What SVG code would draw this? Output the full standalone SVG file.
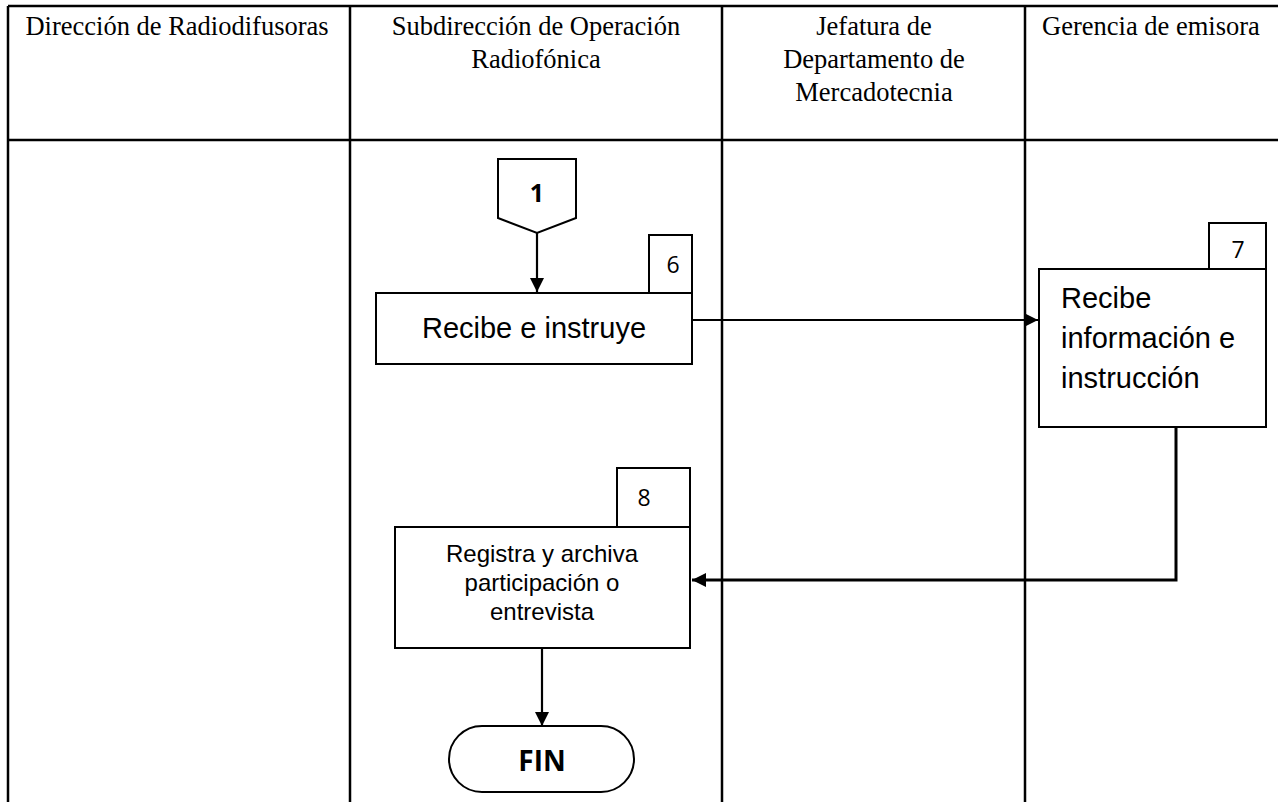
<svg xmlns="http://www.w3.org/2000/svg" width="1278" height="802" viewBox="0 0 1278 802">
<style>
.hdr{font-family:"Liberation Serif",serif;font-size:26.5px;fill:#000;text-anchor:middle}
.grid{stroke:#000;stroke-width:2.5;fill:none}
.box{fill:#fff;stroke:#000;stroke-width:2}
.lbl{font-family:"Liberation Sans",Arial,sans-serif;fill:#000}
.num{font-family:"Open Sans","Liberation Sans",sans-serif;font-size:23px;fill:#000;text-anchor:middle}
.bold{font-family:"Open Sans","Liberation Sans",sans-serif;font-weight:bold;fill:#000;text-anchor:middle}
.conn{stroke:#000;stroke-width:2.2;fill:none}
</style>
<defs>
<marker id="arrL" markerWidth="14" markerHeight="14" refX="14" refY="7" orient="auto" markerUnits="userSpaceOnUse" viewBox="0 0 14 14">
<path d="M0,0 L14,7 L0,14 z" fill="#000"/>
</marker>
</defs>
<rect width="1278" height="802" fill="#fff"/>
<g id="table">
<line class="grid" x1="8" y1="6" x2="1278" y2="6"/>
<line class="grid" x1="8" y1="140" x2="1278" y2="140"/>
<line class="grid" x1="8" y1="6" x2="8" y2="802"/>
<line class="grid" x1="350" y1="6" x2="350" y2="802"/>
<line class="grid" x1="722" y1="6" x2="722" y2="802"/>
<line class="grid" x1="1025" y1="6" x2="1025" y2="802"/>
<text class="hdr" x="177" y="35">Dirección de Radiodifusoras</text>
<text class="hdr" x="536" y="35">Subdirección de Operación</text>
<text class="hdr" x="536" y="68">Radiofónica</text>
<text class="hdr" x="874" y="35">Jefatura de</text>
<text class="hdr" x="874" y="68">Departamento de</text>
<text class="hdr" x="874" y="101">Mercadotecnia</text>
<text class="hdr" x="1151" y="35">Gerencia de emisora</text>
</g>
<g id="connectors">
<line class="conn" x1="537" y1="233" x2="537" y2="292" marker-end="url(#arrL)"/>
<line class="conn" x1="692" y1="320" x2="1038" y2="320" marker-end="url(#arrL)"/>
<polyline class="conn" style="stroke-width:3" points="1176,428 1176,580 692,580" marker-end="url(#arrL)"/>
<line class="conn" x1="542" y1="649" x2="542" y2="726" marker-end="url(#arrL)"/>
</g>
<g id="n1">
<path class="box" d="M498,159 H576 V218 L537,233 L498,218 Z"/>
<text class="bold" x="537" y="202" font-size="25">1</text>
</g>
<g id="n6">
<rect class="box" x="649" y="235" width="43" height="58"/>
<text class="num" x="673" y="273">6</text>
<rect class="box" x="376" y="293" width="316" height="71"/>
<text class="lbl" x="534" y="338" font-size="29" text-anchor="middle">Recibe e instruye</text>
</g>
<g id="n7">
<rect class="box" x="1209" y="223" width="57" height="46"/>
<text class="num" x="1238" y="258">7</text>
<rect class="box" x="1039" y="269" width="227" height="158"/>
<text class="lbl" x="1061" y="308" font-size="29">Recibe</text>
<text class="lbl" x="1061" y="348" font-size="29">información e</text>
<text class="lbl" x="1061" y="388" font-size="29">instrucción</text>
</g>
<g id="n8">
<rect class="box" x="617" y="468" width="73" height="59"/>
<text class="num" x="644" y="506">8</text>
<rect class="box" x="395" y="527" width="295" height="121"/>
<text class="lbl" x="542" y="562" font-size="24" text-anchor="middle">Registra y archiva</text>
<text class="lbl" x="542" y="591" font-size="24" text-anchor="middle">participación o</text>
<text class="lbl" x="542" y="620" font-size="24" text-anchor="middle">entrevista</text>
</g>
<g id="fin">
<rect class="box" x="449" y="726" width="185" height="66" rx="33" ry="33"/>
<text class="bold" x="542" y="771" font-size="28">FIN</text>
</g>
</svg>
